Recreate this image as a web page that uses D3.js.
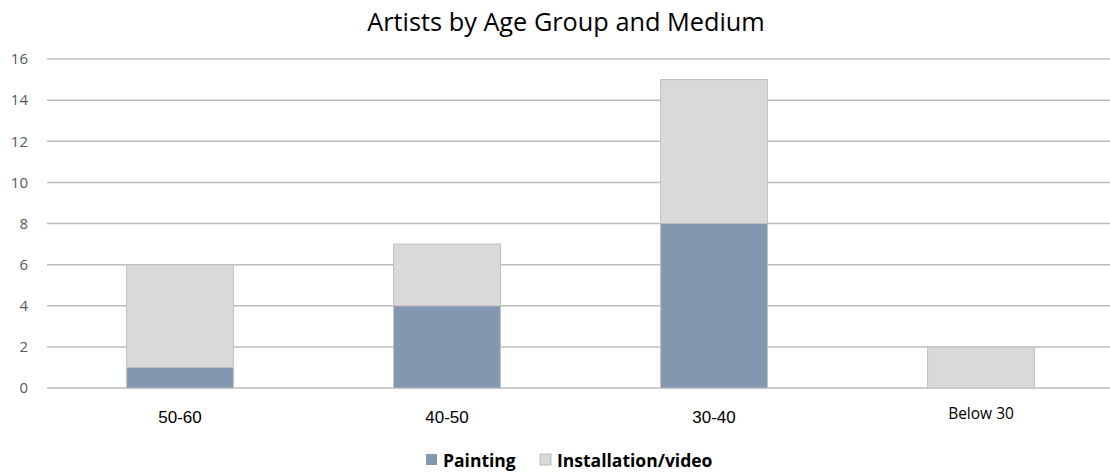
<!DOCTYPE html>
<html>
<head>
<meta charset="utf-8">
<script src="https://cdn.jsdelivr.net/npm/d3@7"></script>
<style>
  body { margin: 0; background: #fff; }
  svg { display: block; }
</style>
</head>
<body>
<script>
// chart data
var ageGroups = ["50-60", "40-50", "30-40", "Below 30"];
var painting = [1, 4, 8, 0];
var installation = [5, 3, 7, 2];
var seriesNames = ["Painting", "Installation/video"];
var yTicks = [0, 2, 4, 6, 8, 10, 12, 14, 16];

var width = 1110, height = 473;
var colors = ["#8497b0", "#d9d9d9"];

var svg = d3.select("body").append("svg")
  .attr("width", width)
  .attr("height", height);

// scales
var x = d3.scaleBand()
  .domain(ageGroups)
  .range([46.5, 1114.5])
  .paddingInner(0.6)
  .paddingOuter(0.3);

var y = d3.scaleLinear()
  .domain([0, 16])
  .range([388, 59]);

// title
svg.append("text")
  .attr("x", 566)
  .attr("y", 31)
  .attr("text-anchor", "middle")
  .style("font-family", "'Open Sans', sans-serif")
  .style("font-size", "25.3px")
  .style("fill", "#000")
  .text("Artists by Age Group and Medium");

// gridlines
svg.append("g").selectAll("line")
  .data(yTicks)
  .enter().append("line")
    .attr("x1", 47)
    .attr("x2", width)
    .attr("y1", function(d) { return y(d); })
    .attr("y2", function(d) { return y(d); })
    .style("stroke", "#bcbcbc")
    .style("stroke-width", 1.5);

// y labels
var yAxis = d3.axisLeft(y).tickValues(yTicks).tickSize(0).tickPadding(0);
var gy = svg.append("g")
  .attr("transform", "translate(28,0)")
  .call(yAxis);
gy.select(".domain").remove();
gy.selectAll("text")
  .style("font-family", "'Open Sans', sans-serif")
  .style("font-size", "15px")
  .style("fill", "#595959");

// stacked bars
var rows = ageGroups.map(function(g, i) {
  return { group: g, Painting: painting[i], "Installation/video": installation[i] };
});
var stacked = d3.stack().keys(seriesNames)(rows);

svg.append("g").selectAll("g")
  .data(stacked)
  .enter().append("g")
    .style("fill", function(d, i) { return colors[i]; })
  .selectAll("rect")
  .data(function(d) { return d.filter(function(p) { return p[1] > p[0]; }); })
  .enter().append("rect")
    .attr("x", function(d) { return x(d.data.group); })
    .attr("width", x.bandwidth())
    .attr("y", function(d) { return y(d[1]); })
    .attr("height", function(d) { return y(d[0]) - y(d[1]); })
    .style("stroke", "#c0c0c0")
    .style("stroke-width", 1);

// category labels (last one is set in a different font, as in the original)
svg.append("g").selectAll("text")
  .data(ageGroups)
  .enter().append("text")
    .attr("x", function(d) { return x(d) + x.bandwidth() / 2; })
    .attr("y", function(d, i) { return i < 3 ? 423 : 419; })
    .attr("text-anchor", "middle")
    .style("font-family", function(d, i) { return i < 3 ? "'Liberation Sans', Arial, sans-serif" : "'Open Sans', sans-serif"; })
    .style("font-size", function(d, i) { return i < 3 ? "17px" : "15.5px"; })
    .style("fill", "#000")
    .text(function(d) { return d; });

// legend
var legendX = [426, 540];
var legend = svg.append("g").selectAll("g")
  .data(seriesNames)
  .enter().append("g")
    .attr("transform", function(d, i) { return "translate(" + legendX[i] + ",454)"; });
legend.append("rect")
  .attr("width", 11)
  .attr("height", 11)
  .style("fill", function(d, i) { return colors[i]; })
  .style("stroke", function(d, i) { return i ? "#b0b0b0" : "none"; })
  .style("stroke-width", 0.8);
legend.append("text")
  .attr("x", 17)
  .attr("y", 13)
  .style("font-family", "'Open Sans', sans-serif")
  .style("font-weight", "bold")
  .style("font-size", "17.5px")
  .style("fill", "#000")
  .text(function(d) { return d; });
</script>
</body>
</html>
